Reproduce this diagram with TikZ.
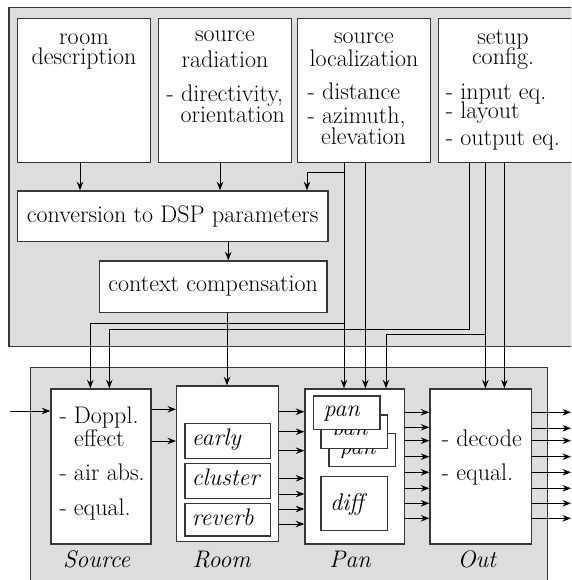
\documentclass[tikz,border=0pt]{standalone}
\usetikzlibrary{arrows.meta,fit}
\definecolor{panelgray}{RGB}{221,221,221}
\definecolor{edgecol}{RGB}{55,55,55}
\newcommand\fsz{\fontsize{24}{24}\selectfont}
\begin{document}
\begin{tikzpicture}[x=1pt,y=-1pt,
  panel/.style={draw=edgecol, line width=1.5pt, fill=panelgray, inner sep=0pt},
  box/.style={draw=edgecol, line width=1.4pt, fill=white, inner sep=0pt},
  tc/.style={anchor=base, inner sep=0pt, font=\fsz},
  tw/.style={anchor=base west, inner sep=0pt, font=\fsz},
  ti/.style={anchor=base west, inner sep=0pt, font=\fsz\itshape},
  lab/.style={anchor=base, inner sep=0pt, font=\fsz\itshape},
  arr/.style={draw=black, line width=0.95pt, -{Stealth[length=8.5pt,width=6.5pt,inset=2.8pt]}},
  ln/.style={draw=black, line width=0.95pt}]
\useasboundingbox (0,0) rectangle (571,580);
\clip (0,0) rectangle (571,580);
\fill[white] (0,0) rectangle (571,580);

% panels
\node[panel, fit={(9,7.3) (600,346.7)}] (toppanel) {};
\node[panel, fit={(30.7,367.3) (547.7,600)}] (botpanel) {};

% top boxes
\node[box, fit={(17.3,18.3) (150.7,162.7)}] (roomdesc) {};
\node[box, fit={(158.3,18.3) (291.7,162.7)}] (srcrad) {};
\node[box, fit={(297.3,18.3) (430.7,162.7)}] (loc) {};
\node[box, fit={(438.3,18.3) (580,162.7)}] (setup) {};
\node[box, fit={(17.5,191) (328,241.7)}] (conv) {};
\node[box, fit={(99.4,261) (327,312.3)}] (ctx) {};

\node[tc] (rd1) at (84,44.5) {room};
\node[tc] (rd2) at (84,65) {description};
\node[tc] (sr1) at (225,42) {source};
\node[tc] (sr2) at (225,67.5) {radiation};
\node[tw] (sr3) at (166.5,101.5) {- directivity,};
\node[tw] (sr4) at (180.5,123) {orientation};
\node[tc] (sl1) at (364,43.3) {source};
\node[tc] (sl2) at (364,66.7) {localization};
\node[tw] (sl3) at (307.3,100) {- distance};
\node[tw] (sl4) at (307.3,124) {- azimuth,};
\node[tw] (sl5) at (321,145) {elevation};
\node[tc] (sc1) at (503,45) {setup};
\node[tc] (sc2) at (503,65) {config.};
\node[tw] (sc3) at (445.7,100) {- input eq.};
\node[tw] (sc4) at (445.7,119) {- layout};
\node[tw] (sc5) at (445.7,146) {- output eq.};
\node[tc] (convt) at (172.7,222) {conversion to DSP parameters};
\node[tc] (ctxt) at (213.2,291) {context compensation};

% bottom boxes
\node[box, fit={(51,389) (151,544)}] (src) {};
\node[box, fit={(176.7,386) (278.7,541.7)}] (room) {};
\node[box, fit={(305,389) (404.3,544)}] (pan) {};
\node[box, fit={(430,389) (531.7,544)}] (out) {};

\node[box, fit={(185,423.3) (270.7,458.7)}] (early) {};
\node[box, fit={(185,463.7) (270.7,498.3)}] (cluster) {};
\node[box, fit={(185,503.3) (270.7,536)}] (reverb) {};

\node[box, fit={(329,433.3) (395.7,466.7)}] (pan3) {};
\begin{scope}
\clip (329,445) rectangle (395.7,457);
\node[ti] (pan3t) at (339.3,454) {pan};
\end{scope}
\node[box, fit={(321,415) (387.7,448.7)}] (pan2) {};
\begin{scope}
\clip (321,429.3) rectangle (387.7,434.3);
\node[ti] (pan2t) at (331.3,435.3) {pan};
\end{scope}
\node[box, fit={(313.3,396) (380,429.3)}] (pan1) {};
\node[ti] (pan1t) at (323.3,416.7) {pan};
\node[box, fit={(321,476.7) (387.7,530.7)}] (diff) {};
\node[ti] (difft) at (330,510) {diff};

\node[tw] (s1) at (59.3,423.3) {- Doppl.};
\node[tw] (s2) at (74,446) {effect};
\node[tw] (s3) at (59.3,480) {- air abs.};
\node[tw] (s4) at (59.3,515) {- equal.};
\node[ti] (r1) at (191.7,445) {early};
\node[ti] (r2) at (191.7,485) {cluster};
\node[ti] (r3) at (191.7,525) {reverb};
\node[tw] (o1) at (441.7,446) {- decode};
\node[tw] (o2) at (441.7,480) {- equal.};

\node[lab] (lsrc) at (96.7,567.3) {Source};
\node[lab] (lroom) at (221.7,567.3) {Room};
\node[lab] (lpan) at (350,567.3) {Pan};
\node[lab] (lout) at (476.7,567.3) {Out};

% bend coordinates
\coordinate (j1) at (344,172);
\coordinate (j2) at (344,323.3);
\coordinate (k1) at (469.8,329);
\coordinate (k2) at (485.4,334);
\coordinate (inp) at (10,411);

% top connectors
\draw[arr] (roomdesc.south -| 80,0) -- (conv.north -| 80,0);
\draw[arr] (srcrad.south -| 220,0) -- (conv.north -| 220,0);
\draw[arr] (loc.south -| j1) -- (pan.north -| j1);
\draw[arr] (j1) -| (conv.north -| 307,0);
\draw[arr] (j2) -| (src.north -| 90.3,0);
\draw[arr] (loc.south -| 365.3,0) -- (pan.north -| 365.3,0);
\draw[arr] (conv.south -| 228.3,0) -- (ctx.north -| 228.3,0);
\draw[arr] (ctx.south -| 227,0) -- (room.north -| 227,0);
\draw[ln] (setup.south -| k1) -- (k1);
\draw[arr] (k1) -| (src.north -| 109.3,0);
\draw[arr] (setup.south -| k2) -- (out.north -| k2);
\draw[arr] (k2) -| (pan.north -| 386,0);
\draw[arr] (setup.south -| 504.4,0) -- (out.north -| 504.4,0);

% bottom connectors
\draw[arr] (inp) -- (src.west |- inp);
\foreach \yy in {409.3,441}
  \draw[arr] (src.east |- 0,\yy) -- (room.west |- 0,\yy);
\foreach \yy in {411.7,431.7,450.7,478.3,494,509,524}
  \draw[arr] (room.east |- 0,\yy) -- (pan.west |- 0,\yy);
\foreach \yy in {412.3,427.3,440.7,456.7,472.3,488.3,503.3,518.3}
  \draw[arr] (pan.east |- 0,\yy) -- (out.west |- 0,\yy);
\foreach \yy in {412.3,428.3,440.7,456.7,472.3,488.3,503.3,518.3}
  \draw[arr] (out.east |- 0,\yy) -- (571,\yy);
\end{tikzpicture}
\end{document}
